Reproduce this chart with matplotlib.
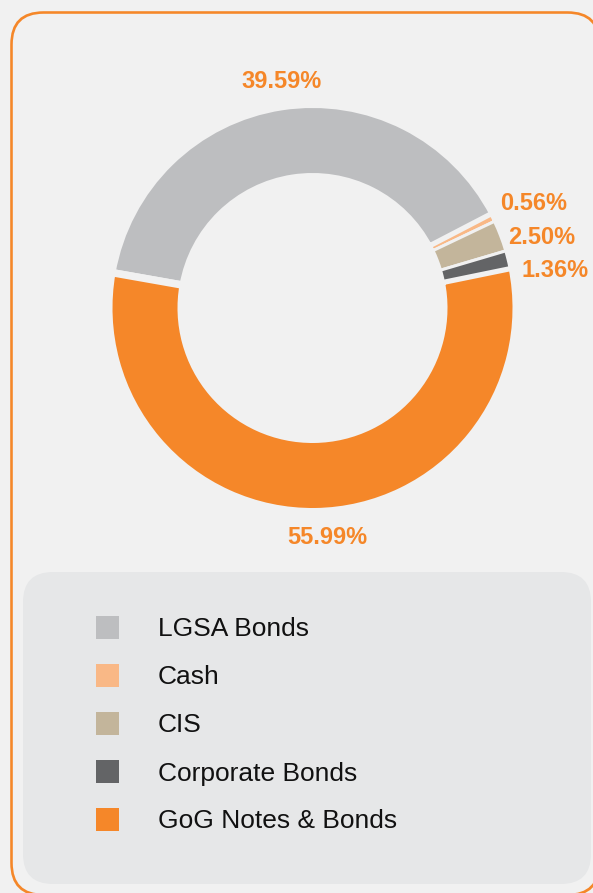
import matplotlib
matplotlib.use("Agg")
import matplotlib.pyplot as plt
from matplotlib.patches import FancyBboxPatch, Rectangle

# data
categories = ["LGSA Bonds", "Cash", "CIS", "Corporate Bonds", "GoG Notes & Bonds"]
shares = [39.59, 0.56, 2.50, 1.36, 55.99]
share_labels = ["39.59%", "0.56%", "2.50%", "1.36%", "55.99%"]
colors = ["#bdbec0", "#f9b886", "#c3b59b", "#636466", "#f58729"]

# layout (pixels, y measured from the top)
W, H = 593, 893
bg = "#f1f1f1"
orange = "#f58729"
label_pos = [(282, 87.5), (533.5, 209.5), (542, 244.5), (555, 277), (327, 543.5)]
r_out, r_in = 200, 135        # visible ring radii
gap_big, gap_small = 7.5, 3   # stroke widths in px


def Y(y):
    return H - y


def rounded(x0, y0, x1, y1, r, **kw):
    # box given by pixel corners (top-left, bottom-right)
    p = FancyBboxPatch((x0, Y(y1)), x1 - x0, y1 - y0,
                       boxstyle="round,pad=0,rounding_size=%g" % r, **kw)
    p.set_clip_on(False)
    ax.add_patch(p)
    return p


fig = plt.figure(figsize=(W / 100, H / 100), dpi=100, facecolor=bg)
ax = fig.add_axes([0, 0, 1, 1])
ax.set_facecolor(bg)

# outer orange frame, drawn as two filled boxes (stroked paths clip badly off canvas)
rounded(10.2, 11.2, 600.8, 896.3, 33.3, facecolor=orange, edgecolor="none", zorder=0.2)
rounded(12.8, 13.8, 598.2, 893.7, 30.7, facecolor=bg, edgecolor="none", zorder=0.3)

# donut
wedges, _ = ax.pie(shares, colors=colors, startangle=170, counterclock=False,
                   radius=r_out, center=(312.5, Y(308)), frame=True,
                   wedgeprops=dict(width=r_out - r_in, edgecolor=bg))
for w, s in zip(wedges, shares):
    g = gap_big if s > 10 else gap_small
    w.set_radius(r_out + g / 2)
    w.set_width(r_out - r_in + g)
    w.set_linewidth(g * 0.72)
    w.set_zorder(2 if s > 10 else 3)

for lab, (x, y) in zip(share_labels, label_pos):
    ax.text(x, Y(y), lab, ha="center", va="baseline", fontsize=17,
            fontweight="bold", color=orange, family="Liberation Sans")

# legend panel
rounded(23, 572, 591, 884, 30, facecolor="#e6e7e8", edgecolor="none", zorder=2)

for i, (name, c) in enumerate(zip(categories, colors)):
    yc = 627 + 48 * i
    ax.add_patch(Rectangle((96, Y(yc + 11.5)), 23, 23, facecolor=c,
                           edgecolor="none", zorder=3))
    ax.text(158, Y(yc + 9.5), name, ha="left", va="baseline", fontsize=19,
            color="#111111", family="Liberation Sans", zorder=3)

ax.set_xlim(0, W)
ax.set_ylim(0, H)
ax.set_aspect("auto")
ax.axis("off")

fig.savefig("out.png", dpi=100, facecolor=bg)
